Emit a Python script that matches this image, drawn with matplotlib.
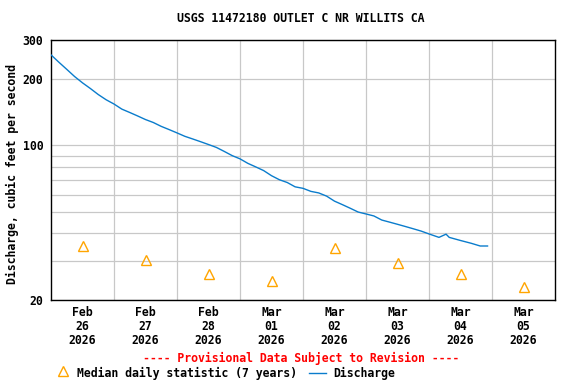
import matplotlib
matplotlib.use("Agg")
import matplotlib.pyplot as plt
from matplotlib.lines import Line2D
from matplotlib.ticker import NullFormatter

title = "USGS 11472180 OUTLET C NR WILLITS CA"
y_label = "Discharge, cubic feet per second"
provisional = "---- Provisional Data Subject to Revision ----"
median_name = "Median daily statistic (7 years)"
flow_name = "Discharge"

# hours since 2026-02-26 00:00
flow_hours = list(range(0, 144, 3)) + [144, 147.8, 150.5, 151.7, 155.9, 160.1, 163.5, 166.3]
flow_cfs = [
    257, 238, 221, 205, 192, 181, 170, 161,
    154, 146, 141, 136, 131, 127, 122, 118,
    114, 110, 107, 104, 101, 98, 94, 90,
    87, 83, 80, 77, 73, 70, 68, 65,
    64, 62, 61, 59, 56, 54, 52, 50,
    49, 48, 46, 45, 44, 43, 42, 41,
    39.8, 38.4, 39.7, 38.4, 37.2, 36.1, 35.1, 35.1,
]

median_days = [0.5, 1.5, 2.5, 3.5, 4.5, 5.5, 6.5, 7.5]
median_cfs = [35.1, 30.3, 26.2, 24.4, 34.2, 29.4, 26.2, 22.9]

day_labels = [
    "Feb\n26\n2026", "Feb\n27\n2026", "Feb\n28\n2026", "Mar\n01\n2026",
    "Mar\n02\n2026", "Mar\n03\n2026", "Mar\n04\n2026", "Mar\n05\n2026",
]
y_ticks = [20, 100, 200, 300]
y_minor = [30, 40, 50, 60, 70, 80, 90]

FONT = dict(family="DejaVu Sans Mono", weight="bold", size=8.3)
BLUE = "#0a7ccc"
ORANGE = "#ffa500"
GRID = "#c8c8c8"

fig = plt.figure(figsize=(5.76, 3.84), dpi=100)
ax = fig.add_axes([51 / 576, 84 / 384, 504 / 576, 260 / 384])

ax.plot([h / 24 for h in flow_hours], flow_cfs, color=BLUE, lw=1.0, zorder=3)
ax.plot(median_days, median_cfs, ls="none", marker="^", ms=7.5,
        mfc="none", mec=ORANGE, mew=1.0, zorder=4)

ax.set_yscale("log")
ax.set_ylim(20, 300)
ax.set_xlim(0, 8)

ax.set_yticks(y_ticks, labels=[str(v) for v in y_ticks])
ax.set_yticks(y_minor, minor=True)
ax.yaxis.set_minor_formatter(NullFormatter())
ax.set_xticks(median_days, labels=day_labels)
ax.set_xticks(range(1, 8), minor=True)

ax.grid(which="both", axis="y", color=GRID, lw=0.9)
ax.grid(which="minor", axis="x", color=GRID, lw=0.9)
ax.set_axisbelow(True)

ax.tick_params(which="both", length=0)
ax.tick_params(axis="y", pad=5.5)
ax.tick_params(axis="x", pad=4)
for lab in ax.get_xticklabels() + ax.get_yticklabels():
    lab.set_fontproperties(matplotlib.font_manager.FontProperties(**FONT))
for lab in ax.get_xticklabels():
    lab.set_linespacing(1.1)

for sp in ax.spines.values():
    sp.set_color("black")
    sp.set_linewidth(1.0)

fig.text(301 / 576, 1 - 19 / 384, title, ha="center", va="center", **FONT)
fig.text(12 / 576, 1 - 174 / 384, y_label, rotation=90, ha="center", va="center", **FONT)

fig.text(301 / 576, 1 - 358 / 384, provisional, ha="center", va="center",
         color="red", **FONT)
row_y = 1 - 373 / 384
fig.add_artist(Line2D([63 / 576], [1 - 371 / 384], marker="^", ms=7.5,
                      mfc="none", mec=ORANGE, mew=1.0, transform=fig.transFigure))
fig.text(77 / 576, row_y, median_name, ha="left", va="center", **FONT)
fig.add_artist(Line2D([309 / 576, 326 / 576], [row_y, row_y], color=BLUE, lw=1.0,
                      transform=fig.transFigure))
fig.text(333 / 576, row_y, flow_name, ha="left", va="center", **FONT)

fig.savefig("out.png", dpi=100)
